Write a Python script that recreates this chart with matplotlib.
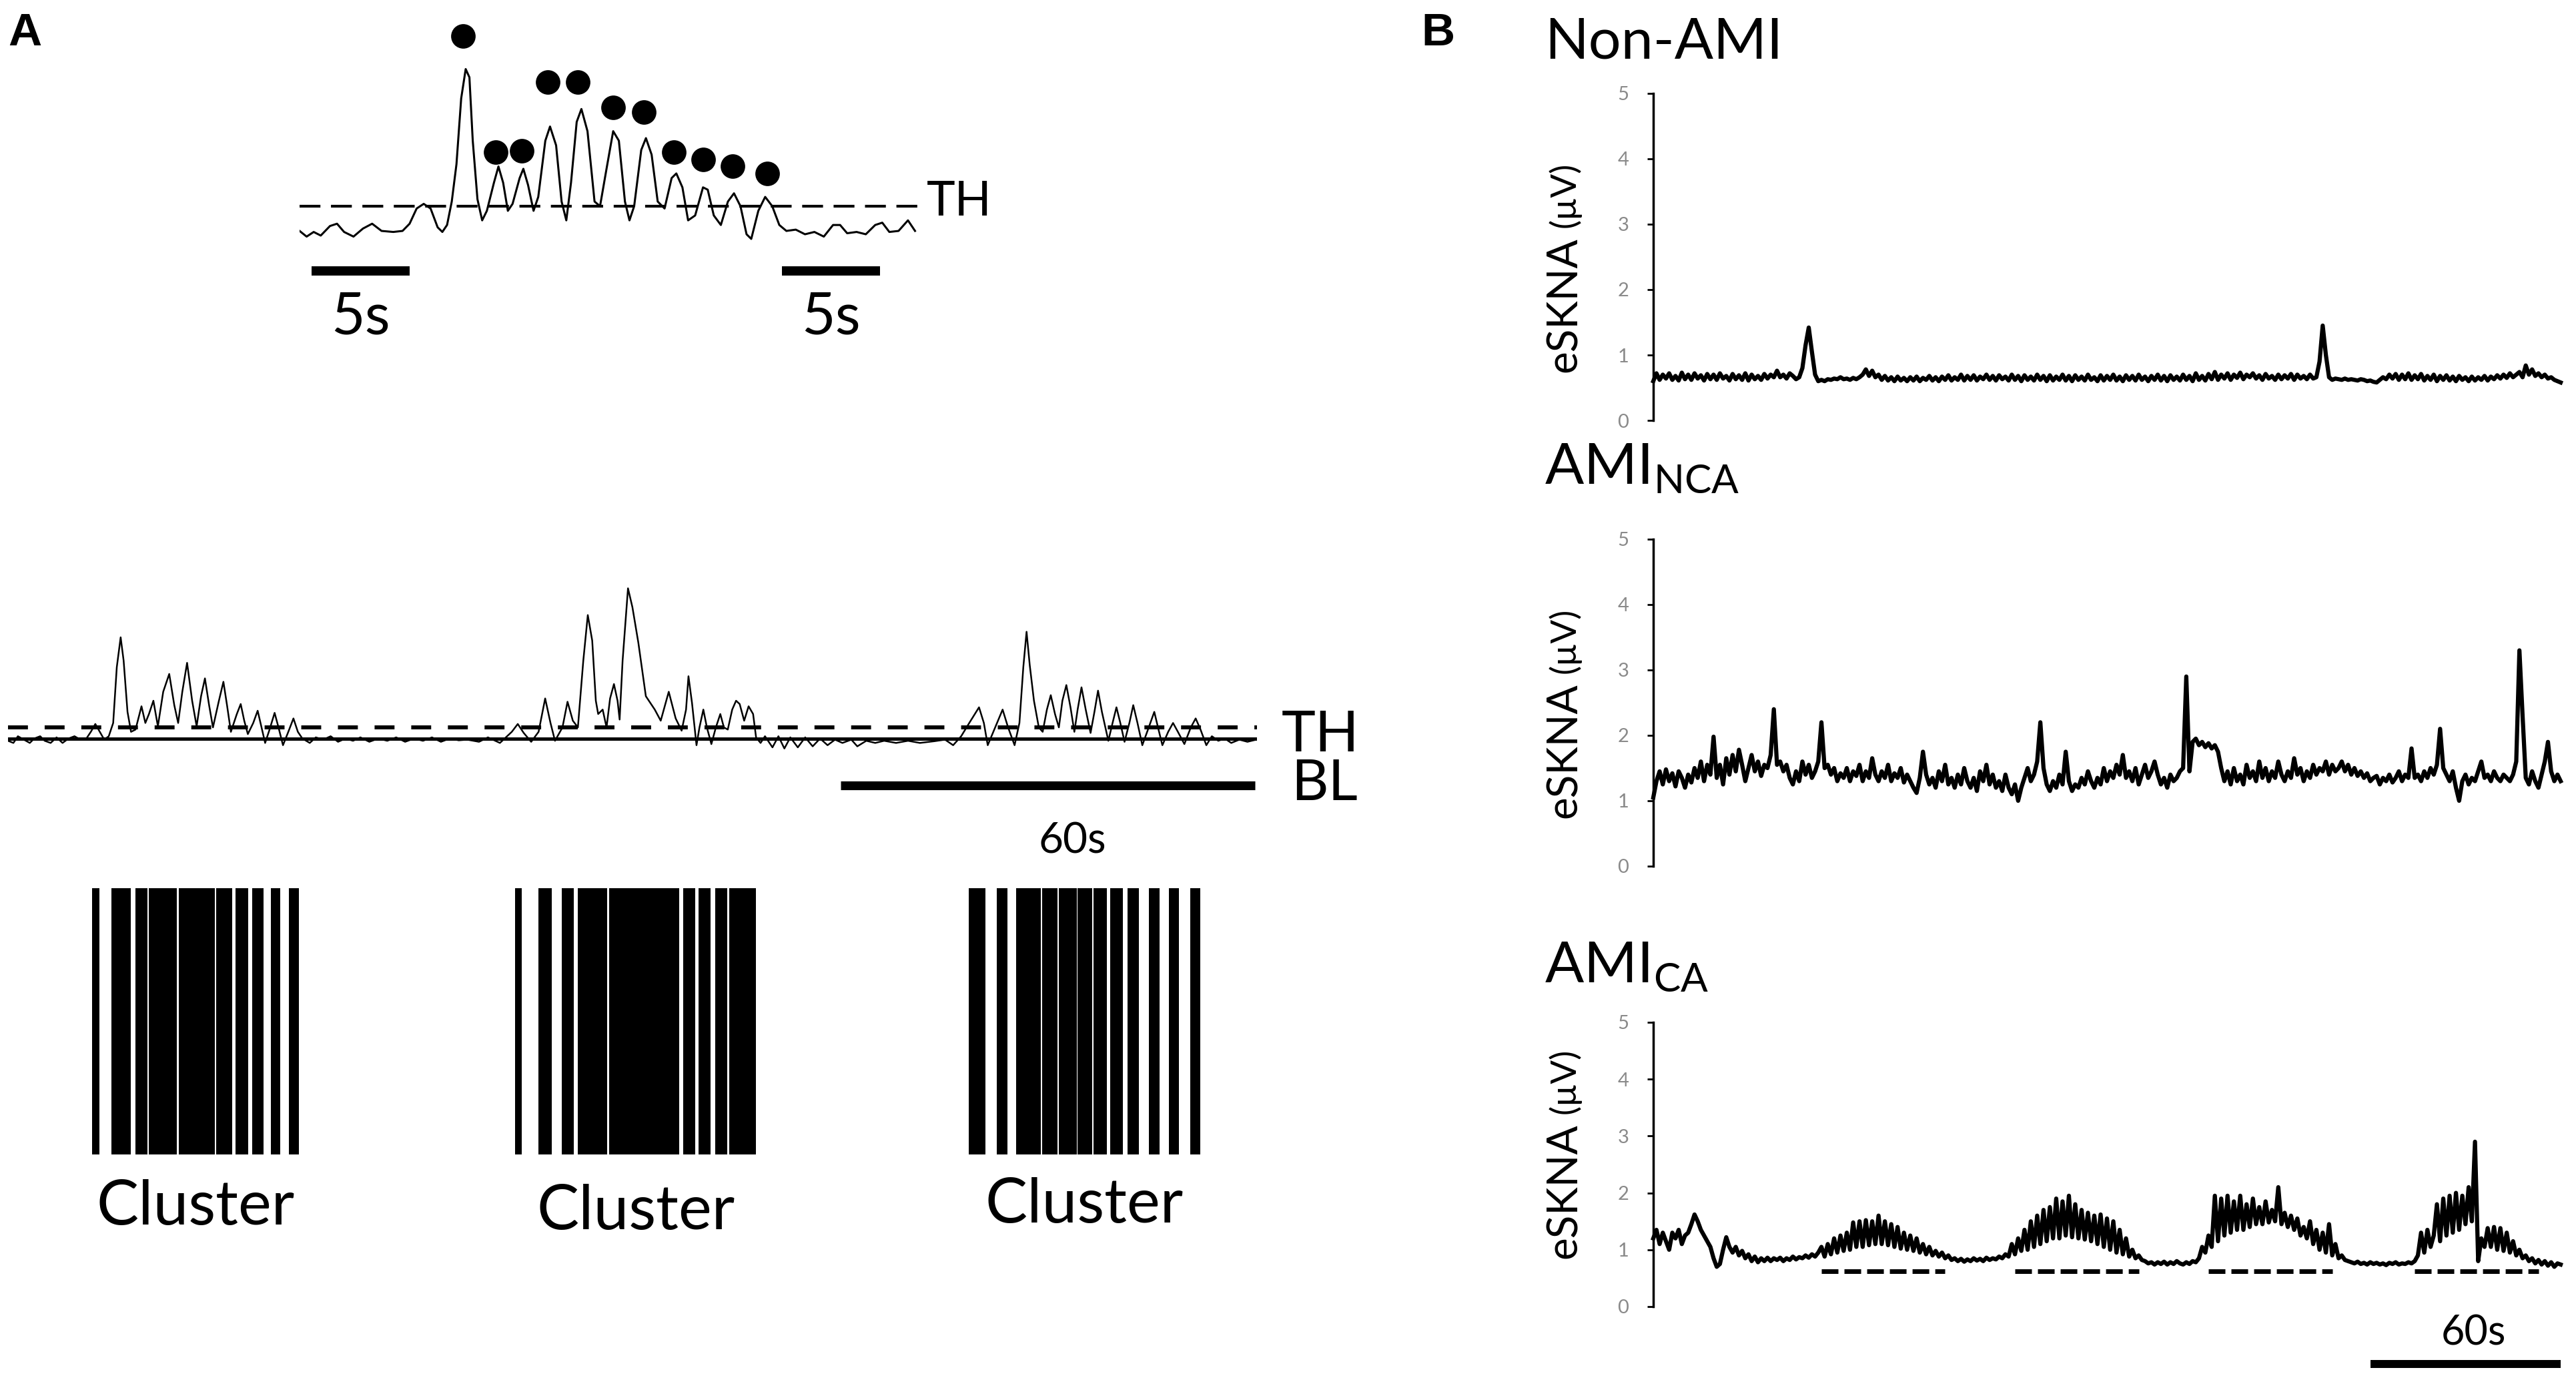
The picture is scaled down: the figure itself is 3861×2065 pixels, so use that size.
import numpy as np
import matplotlib
matplotlib.use("Agg")
import matplotlib.pyplot as plt

plt.rcParams['font.family'] = ['Lato', 'DejaVu Sans']
plt.rcParams['mathtext.fontset'] = 'custom'
plt.rcParams['mathtext.rm'] = 'Lato'

# ---- Panel A, zoomed trace: (time s, amplitude in threshold units; TH = 1) ----
top_trace = [
    (0.00, 0.04), (0.36, -0.18), (0.72, 0.00), (1.08, -0.14), (1.55, 0.23), (1.91, 0.32),
    (2.27, 0.00), (2.75, -0.18), (3.23, 0.13), (3.70, 0.32), (4.18, 0.04), (4.78, 0.00),
    (5.25, 0.04), (5.61, 0.32), (5.97, 0.91), (6.33, 1.09), (6.68, 0.91), (7.04, 0.18),
    (7.28, 0.00), (7.52, 0.27), (7.76, 1.18), (8.00, 2.63), (8.24, 5.18), (8.47, 6.32),
    (8.66, 6.00), (8.83, 3.54), (9.07, 1.27), (9.31, 0.45), (9.55, 0.82), (9.91, 1.91),
    (10.14, 2.54), (10.38, 1.91), (10.62, 0.82), (10.86, 1.09), (11.22, 2.09), (11.41, 2.45),
    (11.65, 1.82), (11.93, 0.82), (12.17, 1.36), (12.53, 3.54), (12.77, 4.09), (13.08, 3.36),
    (13.36, 1.18), (13.60, 0.45), (13.84, 1.91), (14.13, 4.27), (14.37, 4.77), (14.68, 3.91),
    (15.04, 1.18), (15.32, 1.00), (15.63, 2.36), (15.99, 3.91), (16.28, 3.54), (16.59, 1.18),
    (16.82, 0.45), (17.06, 1.00), (17.42, 3.18), (17.66, 3.64), (17.95, 3.00), (18.26, 1.18),
    (18.61, 0.91), (18.97, 2.09), (19.21, 2.27), (19.52, 1.73), (19.81, 0.45), (20.17, 0.64),
    (20.57, 1.73), (20.81, 1.64), (21.12, 0.64), (21.48, 0.27), (21.84, 1.18), (22.15, 1.50),
    (22.48, 1.00), (22.79, -0.09), (23.03, -0.27), (23.39, 0.82), (23.74, 1.36), (24.10, 1.00),
    (24.46, 0.27), (24.82, 0.04), (25.30, 0.09), (25.77, -0.09), (26.25, 0.00), (26.73, -0.18),
    (27.20, 0.27), (27.56, 0.27), (27.92, -0.05), (28.40, 0.00), (28.87, -0.09), (29.35, 0.27),
    (29.71, 0.36), (30.07, 0.00), (30.54, 0.04), (31.02, 0.45), (31.38, 0.04),
]
top_dot_t = [8.35, 10.00, 11.34, 12.65, 14.20, 15.99, 17.54, 19.09, 20.57, 22.07, 23.86]
top_dot_v = [7.59, 3.09, 3.14, 5.82, 5.82, 4.82, 4.64, 3.09, 2.82, 2.54, 2.27]
top_scalebars = [(0.6, 5.6), (24.6, 29.6)]
top_scale_label = '5s'

# ---- Panel A, long trace: (time s, amplitude in threshold units; BL = 0, TH = 1) ----
mid_trace = [
    (0.00, -0.18), (0.78, -0.37), (1.43, 0.22), (2.29, -0.08), (3.15, -0.37), (3.79, 0.02),
    (4.65, 0.22), (5.30, -0.18), (6.16, -0.37), (7.02, 0.12), (7.88, -0.37), (8.74, 0.02),
    (9.61, 0.22), (10.47, -0.08), (11.33, 0.02), (11.97, 0.61), (12.62, 1.30), (13.26, 0.61),
    (13.91, -0.08), (14.56, 0.22), (15.20, 1.39), (15.72, 6.30), (16.28, 8.94), (16.71, 6.88),
    (17.27, 2.37), (17.78, 0.61), (18.43, 0.81), (19.29, 2.86), (19.85, 1.39), (20.37, 2.18),
    (21.01, 3.35), (21.66, 1.10), (22.43, 4.14), (23.30, 5.71), (24.03, 2.96), (24.59, 1.39),
    (25.19, 4.14), (25.88, 6.69), (26.61, 3.35), (27.26, 1.10), (27.90, 3.75), (28.46, 5.32),
    (29.06, 2.96), (29.62, 1.00), (30.48, 3.35), (31.13, 5.02), (31.65, 2.96), (32.21, 0.61),
    (33.07, 2.18), (33.63, 3.06), (34.14, 1.59), (34.66, 0.41), (35.44, 1.39), (36.08, 2.47),
    (36.64, 1.00), (37.16, -0.37), (37.80, 0.81), (38.53, 2.28), (39.09, 1.00), (39.74, -0.57),
    (40.51, 0.61), (41.25, 1.79), (41.89, 0.61), (42.54, 0.02), (43.61, -0.37), (44.48, 0.12),
    (45.55, -0.08), (46.63, 0.22), (47.70, -0.27), (48.78, 0.02), (49.86, -0.18), (50.93, 0.12),
    (52.22, -0.27), (53.52, 0.02), (54.81, -0.18), (56.10, 0.12), (57.39, -0.27), (58.68, 0.02),
    (59.97, -0.18), (61.27, 0.12), (62.56, -0.27), (63.85, 0.02), (65.14, -0.14), (66.35, -0.08),
    (68.07, -0.27), (69.36, 0.12), (71.09, -0.37), (72.81, 0.61), (73.67, 1.30), (74.53, 0.51),
    (75.61, -0.27), (76.68, 0.61), (77.63, 3.55), (78.40, 1.39), (79.05, -0.18), (80.13, 1.00),
    (80.86, 3.26), (81.63, 1.59), (82.36, 1.00), (83.14, 6.88), (83.79, 10.90), (84.43, 8.65),
    (84.95, 3.35), (85.29, 2.18), (85.94, 2.57), (86.50, 1.00), (87.01, 3.55), (87.57, 4.82),
    (88.09, 3.35), (88.39, 1.69), (88.82, 6.88), (89.60, 13.26), (90.24, 11.59), (91.10, 8.45),
    (92.18, 3.75), (93.47, 2.57), (94.33, 1.59), (95.49, 4.14), (96.49, 1.79), (97.35, 0.71),
    (97.99, 2.57), (98.34, 5.51), (98.85, 3.16), (99.50, -0.57), (99.93, 1.00), (100.49, 2.57),
    (101.00, 1.00), (101.65, -0.47), (102.30, 1.00), (102.94, 2.18), (103.46, 1.00), (104.02, 0.81),
    (104.66, 2.57), (105.22, 3.35), (105.74, 3.06), (106.39, 1.59), (107.03, 2.86), (107.68, 2.18),
    (108.11, 0.12), (108.76, -0.37), (109.40, 0.22), (110.48, -0.76), (111.34, 0.22), (112.20, -0.86),
    (113.06, 0.12), (114.14, -0.76), (115.21, 0.12), (116.29, -0.67), (117.36, 0.02), (118.44, -0.57),
    (119.52, -0.08), (120.59, -0.37), (121.88, -0.08), (122.74, -0.67), (124.04, -0.18), (125.33, -0.37),
    (126.62, -0.18), (128.34, -0.37), (130.07, -0.18), (131.79, -0.37), (133.85, -0.22), (135.42, -0.08),
    (136.59, -0.57), (137.75, 0.22), (138.92, 1.39), (140.33, 2.77), (141.03, 1.39), (141.59, -0.57),
    (142.66, 1.00), (143.74, 2.57), (144.53, 1.00), (145.47, -0.57), (146.17, 1.39), (146.73, 6.30),
    (147.20, 9.43), (147.66, 6.49), (148.27, 3.35), (148.97, 1.00), (149.53, 0.61), (150.14, 2.57),
    (150.70, 3.84), (151.31, 2.18), (151.87, 1.00), (152.38, 3.35), (152.95, 4.73), (153.55, 2.77),
    (154.11, 0.61), (154.58, 2.57), (155.14, 4.53), (155.75, 2.57), (156.45, 0.51), (157.01, 2.37),
    (157.53, 4.24), (158.09, 2.37), (159.02, -0.18), (159.63, 1.39), (160.19, 2.77), (160.75, 1.39),
    (161.36, -0.27), (162.06, 1.39), (162.62, 2.96), (163.23, 1.39), (163.93, -0.57), (164.86, 1.00),
    (165.66, 2.37), (166.27, 0.81), (166.83, -0.57), (167.67, 0.61), (168.37, 1.39), (169.07, 0.61),
    (170.01, -0.47), (170.94, 1.00), (171.64, 1.79), (172.34, 0.81), (173.18, -0.57), (173.98, 0.22),
    (174.91, -0.18), (175.85, 0.02), (176.78, -0.37), (177.95, -0.08), (179.12, -0.27), (180.40, -0.08),
]
mid_scalebar = (120.3, 180.2)
mid_scale_label = '60s'

# burst raster (start s, end s) for the three clusters
cluster1_bursts = [(12.18, 13.24), (14.92, 17.74), (18.39, 20.16), (20.35, 24.43), (24.64, 29.86),
                   (30.04, 32.37), (32.91, 34.69), (35.27, 36.94), (37.99, 39.34), (40.63, 42.07)]
cluster2_bursts = [(73.26, 74.28), (76.69, 78.56), (80.01, 81.77), (82.35, 86.60), (86.83, 97.02),
                   (97.59, 99.30), (99.78, 101.54), (102.19, 103.95), (104.27, 108.13)]
cluster3_bursts = [(138.83, 141.24), (142.85, 144.46), (145.74, 149.27), (149.42, 151.69),
                   (151.83, 154.42), (154.56, 156.67), (156.85, 158.76), (159.24, 161.11),
                   (161.81, 163.48), (164.87, 166.47), (167.76, 169.20), (170.81, 172.26)]
cluster_labels = ['Cluster', 'Cluster', 'Cluster']

# ---- Panel B: eSKNA (uV), one sample per second ----
non_ami = [
    0.60, 0.72, 0.62, 0.70, 0.64, 0.72, 0.62, 0.68, 0.61, 0.73, 0.63, 0.70, 0.62, 0.72, 0.64, 0.69, 0.61, 0.71, 0.63, 0.70,
    0.62, 0.72, 0.64, 0.68, 0.61, 0.71, 0.63, 0.69, 0.62, 0.72, 0.61, 0.70, 0.63, 0.68, 0.62, 0.71, 0.64, 0.70, 0.66, 0.76,
    0.66, 0.70, 0.64, 0.72, 0.68, 0.63, 0.66, 0.80, 1.15, 1.42, 1.05, 0.70, 0.60, 0.62, 0.60, 0.63, 0.62, 0.64, 0.63, 0.66,
    0.63, 0.64, 0.62, 0.65, 0.63, 0.66, 0.70, 0.78, 0.68, 0.76, 0.66, 0.70, 0.62, 0.68, 0.61, 0.66, 0.60, 0.67, 0.61, 0.65,
    0.60, 0.66, 0.61, 0.67, 0.60, 0.65, 0.62, 0.68, 0.61, 0.66, 0.60, 0.67, 0.62, 0.69, 0.61, 0.66, 0.62, 0.70, 0.61, 0.68,
    0.62, 0.69, 0.61, 0.67, 0.63, 0.70, 0.62, 0.68, 0.61, 0.69, 0.63, 0.67, 0.61, 0.70, 0.62, 0.68, 0.60, 0.69, 0.62, 0.67,
    0.61, 0.70, 0.62, 0.68, 0.60, 0.69, 0.61, 0.67, 0.62, 0.70, 0.61, 0.68, 0.60, 0.69, 0.62, 0.67, 0.61, 0.70, 0.62, 0.66,
    0.60, 0.69, 0.61, 0.68, 0.62, 0.70, 0.61, 0.67, 0.60, 0.69, 0.62, 0.68, 0.61, 0.70, 0.62, 0.67, 0.60, 0.68, 0.62, 0.70,
    0.61, 0.68, 0.60, 0.69, 0.62, 0.67, 0.61, 0.70, 0.62, 0.68, 0.60, 0.72, 0.62, 0.68, 0.61, 0.71, 0.63, 0.74, 0.62, 0.70,
    0.64, 0.72, 0.62, 0.70, 0.65, 0.73, 0.63, 0.70, 0.66, 0.72, 0.64, 0.69, 0.62, 0.71, 0.64, 0.68, 0.62, 0.70, 0.63, 0.69,
    0.64, 0.71, 0.62, 0.70, 0.64, 0.68, 0.63, 0.70, 0.64, 0.66, 0.90, 1.45, 1.00, 0.66, 0.62, 0.64, 0.63, 0.62, 0.64, 0.62,
    0.63, 0.62, 0.61, 0.63, 0.62, 0.60, 0.61, 0.59, 0.58, 0.62, 0.66, 0.63, 0.70, 0.64, 0.71, 0.62, 0.70, 0.63, 0.72, 0.62,
    0.69, 0.63, 0.71, 0.61, 0.68, 0.62, 0.70, 0.60, 0.68, 0.62, 0.69, 0.61, 0.67, 0.60, 0.68, 0.62, 0.66, 0.60, 0.67, 0.61,
    0.66, 0.62, 0.68, 0.61, 0.67, 0.63, 0.69, 0.64, 0.70, 0.65, 0.72, 0.66, 0.70, 0.74, 0.66, 0.84, 0.70, 0.78, 0.68, 0.72,
    0.66, 0.70, 0.64, 0.66, 0.62, 0.60, 0.58,
]
ami_nca = [
    1.05, 1.30, 1.45, 1.25, 1.48, 1.30, 1.42, 1.22, 1.45, 1.35, 1.20, 1.40, 1.28, 1.50, 1.35, 1.60, 1.30, 1.55, 1.40, 1.98,
    1.35, 1.55, 1.25, 1.65, 1.40, 1.70, 1.45, 1.78, 1.55, 1.30, 1.50, 1.70, 1.45, 1.60, 1.38, 1.55, 1.50, 1.70, 2.40, 1.55,
    1.60, 1.45, 1.55, 1.35, 1.25, 1.45, 1.30, 1.60, 1.40, 1.55, 1.35, 1.45, 1.60, 2.20, 1.50, 1.55, 1.40, 1.50, 1.30, 1.42,
    1.35, 1.50, 1.30, 1.45, 1.38, 1.55, 1.30, 1.45, 1.35, 1.65, 1.40, 1.30, 1.45, 1.35, 1.55, 1.30, 1.42, 1.35, 1.50, 1.28,
    1.40, 1.30, 1.20, 1.12, 1.35, 1.75, 1.40, 1.25, 1.35, 1.20, 1.45, 1.30, 1.55, 1.25, 1.35, 1.20, 1.40, 1.25, 1.50, 1.30,
    1.20, 1.35, 1.15, 1.45, 1.30, 1.55, 1.25, 1.40, 1.20, 1.30, 1.15, 1.40, 1.20, 1.10, 1.25, 1.00, 1.20, 1.35, 1.50, 1.30,
    1.40, 1.60, 2.20, 1.50, 1.25, 1.15, 1.30, 1.20, 1.40, 1.25, 1.75, 1.30, 1.15, 1.25, 1.20, 1.35, 1.25, 1.45, 1.30, 1.20,
    1.35, 1.25, 1.50, 1.30, 1.45, 1.35, 1.55, 1.40, 1.70, 1.35, 1.45, 1.30, 1.50, 1.25, 1.40, 1.55, 1.35, 1.45, 1.60, 1.40,
    1.25, 1.35, 1.20, 1.40, 1.30, 1.35, 1.45, 1.50, 2.90, 1.45, 1.90, 1.95, 1.85, 1.90, 1.82, 1.88, 1.80, 1.85, 1.75, 1.50,
    1.30, 1.45, 1.25, 1.50, 1.30, 1.40, 1.25, 1.55, 1.35, 1.45, 1.30, 1.60, 1.35, 1.50, 1.30, 1.45, 1.35, 1.60, 1.40, 1.30,
    1.45, 1.35, 1.65, 1.40, 1.50, 1.30, 1.45, 1.35, 1.55, 1.40, 1.50, 1.45, 1.60, 1.40, 1.55, 1.45, 1.50, 1.60, 1.45, 1.55,
    1.40, 1.50, 1.38, 1.45, 1.35, 1.42, 1.30, 1.35, 1.38, 1.25, 1.35, 1.30, 1.40, 1.28, 1.35, 1.45, 1.30, 1.40, 1.35, 1.80,
    1.35, 1.40, 1.30, 1.45, 1.35, 1.50, 1.40, 1.55, 2.10, 1.50, 1.40, 1.30, 1.45, 1.20, 1.00, 1.30, 1.40, 1.25, 1.35, 1.30,
    1.45, 1.60, 1.35, 1.40, 1.30, 1.45, 1.35, 1.30, 1.40, 1.35, 1.30, 1.40, 1.60, 3.30, 2.30, 1.35, 1.25, 1.45, 1.30, 1.20,
    1.40, 1.60, 1.90, 1.45, 1.30, 1.40, 1.30,
]
ami_ca = [
    1.20, 1.35, 1.10, 1.30, 1.15, 1.00, 1.30, 1.20, 1.35, 1.10, 1.25, 1.30, 1.45, 1.62, 1.50, 1.35, 1.25, 1.15, 1.05, 0.85,
    0.70, 0.75, 1.00, 1.22, 1.05, 0.95, 1.05, 0.90, 0.98, 0.85, 0.92, 0.80, 0.88, 0.78, 0.85, 0.80, 0.86, 0.80, 0.85, 0.82,
    0.86, 0.80, 0.85, 0.82, 0.88, 0.83, 0.87, 0.85, 0.90, 0.86, 0.92, 0.88, 0.95, 1.05, 0.88, 1.10, 0.92, 1.20, 0.95, 1.25,
    0.98, 1.30, 1.00, 1.48, 1.05, 1.50, 1.05, 1.52, 1.08, 1.50, 1.10, 1.60, 1.10, 1.50, 1.08, 1.45, 1.05, 1.40, 1.02, 1.30,
    1.00, 1.25, 0.98, 1.20, 0.95, 1.10, 0.92, 1.05, 0.90, 0.98, 0.88, 0.95, 0.85, 0.90, 0.82, 0.85, 0.80, 0.84, 0.79, 0.83,
    0.80, 0.85, 0.81, 0.84, 0.80, 0.86, 0.82, 0.85, 0.83, 0.88, 0.85, 0.92, 0.88, 1.10, 0.92, 1.20, 0.98, 1.35, 1.00, 1.50,
    1.05, 1.60, 1.10, 1.70, 1.15, 1.75, 1.20, 1.90, 1.20, 1.85, 1.25, 1.95, 1.22, 1.80, 1.20, 1.70, 1.18, 1.65, 1.15, 1.60,
    1.10, 1.62, 1.05, 1.55, 1.00, 1.50, 0.95, 1.35, 0.92, 1.20, 0.88, 1.00, 0.85, 0.90, 0.82, 0.80, 0.76, 0.78, 0.74, 0.78,
    0.75, 0.79, 0.74, 0.78, 0.75, 0.80, 0.76, 0.74, 0.78, 0.75, 0.80, 0.78, 0.85, 1.05, 0.95, 1.25, 1.05, 1.95, 1.15, 1.90,
    1.25, 1.95, 1.30, 1.85, 1.35, 1.95, 1.35, 1.80, 1.40, 1.90, 1.45, 1.75, 1.45, 1.85, 1.48, 1.70, 1.50, 2.10, 1.45, 1.65,
    1.40, 1.60, 1.35, 1.55, 1.25, 1.40, 1.20, 1.50, 1.10, 1.35, 1.00, 1.30, 0.95, 1.45, 0.90, 1.10, 0.85, 0.90, 0.82, 0.80,
    0.78, 0.76, 0.79, 0.75, 0.77, 0.74, 0.78, 0.75, 0.77, 0.74, 0.76, 0.73, 0.77, 0.75, 0.78, 0.74, 0.76, 0.75, 0.78, 0.76,
    0.80, 0.90, 1.30, 0.95, 1.35, 1.05, 1.25, 1.80, 1.15, 1.90, 1.25, 1.95, 1.30, 2.00, 1.35, 1.95, 1.45, 2.10, 1.50, 2.90,
    0.80, 1.20, 1.05, 1.38, 1.05, 1.40, 1.00, 1.38, 0.98, 1.30, 0.95, 1.15, 0.90, 1.00, 0.85, 0.90, 0.80, 0.85, 0.76, 0.82,
    0.74, 0.80, 0.72, 0.78, 0.70, 0.76, 0.74,
]
b_traces = [non_ami, ami_nca, ami_ca]
b_titles = ['Non-AMI', r'AMI$_{\mathregular{NCA}}$', r'AMI$_{\mathregular{CA}}$']
b_yticks = [0, 1, 2, 3, 4, 5]
ca_windows = [(53, 92), (114, 153), (175, 214), (240, 279)]
ca_window_level = 0.62
b_scalebar = (226, 286)

W, H = 3862, 2065
fig = plt.figure(figsize=(W / 100, H / 100), dpi=100)
renderer = fig.canvas.get_renderer()


def box(x0, y0, x1, y1):
    # pixel box (top-left origin) -> figure fraction rect
    return [x0 / W, 1 - y1 / H, (x1 - x0) / W, (y1 - y0) / H]


# ---------------- Panel A ----------------
fig.text(37 / W, 1 - 50 / H, 'A', fontsize=50, fontweight='bold',
         family='Liberation Sans', ha='center', va='center')

ax = fig.add_axes(box(449, 0, 1375, 560))
ax.set_xlim(0, 31.5)
ax.set_ylim(-5.5, 9.0)
ax.axis('off')
tt, tv = np.array(top_trace).T
ax.plot(tt, tv, color='k', lw=2.2, zorder=3)
ax.plot([0, 31.5], [1, 1], color='k', lw=3, dashes=(7.5, 3.8), zorder=2)
ax.scatter(top_dot_t, top_dot_v, s=700, color='k', linewidths=0, zorder=4)
for a, b in top_scalebars:
    ax.plot([a, b], [-1.5, -1.5], color='k', lw=10, solid_capstyle='butt')
    ax.text((a + b) / 2, -3.96, top_scale_label, fontsize=63, ha='center', va='baseline')
ax.text(31.97, 1.18, 'TH', fontsize=52, ha='left', va='center')

ax = fig.add_axes(box(12, 860, 1884, 1300))
ax.set_xlim(0, 180.5)
ax.set_ylim(-11.35, 14.53)
ax.axis('off')
mt, mv = np.array(mid_trace).T
ax.plot(mt, mv, color='k', lw=1.8, zorder=3)
ax.plot([0, 180.5], [1, 1], color='k', lw=4.3, dashes=(5.0, 4.2), zorder=2)
ax.plot([0, 180.5], [0, 0], color='k', lw=3.6, zorder=2)
ax.plot(mid_scalebar, [-4.09, -4.09], color='k', lw=9.5, solid_capstyle='butt')
ax.text(153.8, -10.06, mid_scale_label, fontsize=46, ha='center', va='baseline')
ax.text(184.0, -1.12, 'TH', fontsize=62, ha='left', va='baseline')
ax.text(185.4, -5.4, 'BL', fontsize=62, ha='left', va='baseline')

ax = fig.add_axes(box(12, 1331, 1884, 1730))
ax.set_xlim(0, 180.5)
ax.set_ylim(0, 1)
ax.axis('off')
label_y = [-0.263, -0.281, -0.256]
for bursts, lab, ly in zip([cluster1_bursts, cluster2_bursts, cluster3_bursts], cluster_labels, label_y):
    st = np.array([s for s, e in bursts])
    en = np.array([e for s, e in bursts])
    ax.bar(st, 1, width=en - st, align='edge', color='k', linewidth=0)
    ax.text((st.min() + en.max()) / 2, ly, lab, fontsize=68, ha='center', va='baseline')

# ---------------- Panel B ----------------
fig.text(2155 / W, 1 - 50 / H, 'B', fontsize=50, fontweight='bold',
         family='Liberation Sans', ha='center', va='center')

b_tops = [140, 808, 1532]
b_bottoms = [630, 1298, 1958]
title_base = [87, 725, 1472]
for i, vals in enumerate(b_traces):
    ax = fig.add_axes(box(2478, b_tops[i], 3838, b_bottoms[i]))
    ax.patch.set_visible(False)
    ax.set_xlim(0, 286)
    ax.set_ylim(0, 5)
    for s in ['top', 'right', 'bottom']:
        ax.spines[s].set_visible(False)
    ax.spines['left'].set_linewidth(2.5)
    ax.set_xticks([])
    ax.set_yticks(b_yticks)
    ax.tick_params(axis='y', length=6.5, width=2, pad=20, labelsize=21,
                   color='k', labelcolor='#8a8a8a')
    t = np.arange(len(vals))
    ax.plot(t, vals, color='k', lw=4.5, clip_on=False, solid_joinstyle='round')

    # y label: large "eSKNA" followed by a smaller "(µV)"
    lab_x = (2345 - 2478) / (3838 - 2478)
    lab_bottom = (b_bottoms[i] - 72) / H
    t1 = fig.text(2345 / W, 1 - (b_bottoms[i] - 72) / H, 'eSKNA', rotation=90,
                  fontsize=46, ha='center', va='bottom')
    bb = t1.get_window_extent(renderer)
    fig.text(2345 / W, (bb.y1 + 14) / H, '(\u00b5V)', rotation=90, fontsize=38,
             ha='center', va='bottom')

    fig.text(2315 / W, 1 - title_base[i] / H, b_titles[i], fontsize=62,
             ha='left', va='baseline')
    if i == 2:
        for a, b in ca_windows:
            ax.plot([a, b], [ca_window_level, ca_window_level], color='k', lw=5,
                    dashes=(3.6, 1.3), solid_capstyle='butt', dash_capstyle='butt')
        ax.plot(b_scalebar, [-1.01, -1.01], color='k', lw=8.6, solid_capstyle='butt',
                clip_on=False)
        ax.text(258.5, -0.67, '60s', fontsize=44, ha='center', va='baseline')

fig.savefig('out.png', dpi=100, facecolor='white')
